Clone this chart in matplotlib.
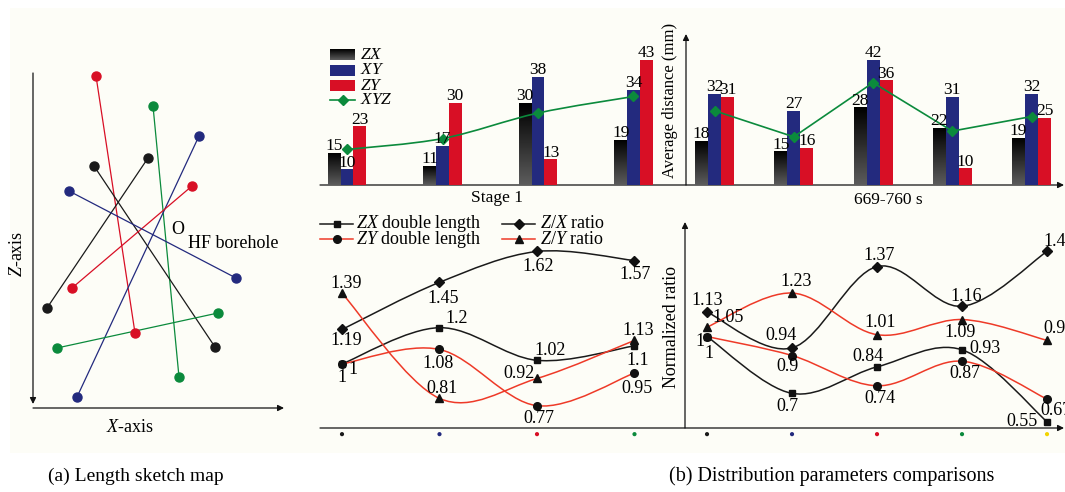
import numpy as np
import matplotlib
matplotlib.use("Agg")
import matplotlib.pyplot as plt
from matplotlib.path import Path
from matplotlib.patches import PathPatch, Rectangle
from matplotlib.colors import LinearSegmentedColormap

plt.rcParams['font.family'] = ['Liberation Serif', 'DejaVu Serif']
plt.rcParams['mathtext.fontset'] = 'custom'
plt.rcParams['mathtext.rm'] = 'Liberation Serif'
plt.rcParams['mathtext.it'] = 'Liberation Serif:italic'

# ---------------- data ----------------
# (a) sketch segments (endpoint coordinates in sketch units)
sketch_x0 = [96, 153, 199, 148, 94, 192, 69, 57]
sketch_z0 = [76, 106, 136, 158, 166, 186, 191, 348]
sketch_x1 = [135, 179, 77, 47, 215, 72, 236, 218]
sketch_z1 = [333, 377, 397, 308, 347, 288, 278, 313]
sketch_colors = ['red', 'green', 'navy', 'black', 'black', 'red', 'navy', 'green']

# (b) top: average distance (mm)
stage1_zx = [15, 11, 30, 19]
stage1_xy = [10, 17, 38, 34]
stage1_zy = [23, 30, 13, 43]
stage1_xyz = [16, 19.3, 27, 32]
late_zx = [18, 15, 28, 22, 19]
late_xy = [32, 27, 42, 31, 32]
late_zy = [31, 16, 36, 10, 25]
late_xyz = [27, 19.3, 35.3, 21, 25.3]

# (b) bottom: normalized ratio
s1_zx_double = [1, 1.2, 1.02, 1.1]
s1_zy_double = [1, 1.08, 0.77, 0.95]
s1_zx_ratio = [1.19, 1.45, 1.62, 1.57]
s1_zy_ratio = [1.39, 0.81, 0.92, 1.13]
late_zx_double = [1, 0.7, 0.84, 0.93, 0.55]
late_zy_double = [1, 0.9, 0.74, 0.87, 0.67]
late_zx_ratio = [1.13, 0.94, 1.37, 1.16, 1.45]
late_zy_ratio = [1.05, 1.23, 1.01, 1.09, 0.98]
dot_colors_s1 = ['black', 'navy', 'red', 'green']
dot_colors_late = ['black', 'navy', 'red', 'green', 'yellow']

# ---------------- styles ----------------
C = {'black': '#1a1a1a', 'navy': '#232a7e', 'red': '#d80f25', 'green': '#0b8a3c',
     'yellow': '#f2d400'}
LRED = '#ee3a28'
W, H = 1065, 492

fig = plt.figure(figsize=(W / 100, H / 100), dpi=100)
fig.patch.set_facecolor('white')

ax_bg = fig.add_axes([0, 0, 1, 1])
ax_bg.axis('off')
ax_bg.add_patch(Rectangle((10, 8), 1055, 445, facecolor='#fdfdf7', edgecolor='none', zorder=0))


def px_axes(x0, y0, x1, y1):
    a = fig.add_axes([x0 / W, 1 - y1 / H, (x1 - x0) / W, (y1 - y0) / H])
    a.patch.set_alpha(0)
    a.axis('off')
    return a


def arrow(p0, p1):
    ax_bg.annotate('', xy=p1, xytext=p0,
                   arrowprops=dict(arrowstyle='-|>', lw=0.9, color='#111111',
                                   mutation_scale=9, shrinkA=0, shrinkB=0))


def smooth_path(xs, ys):
    pts = np.column_stack([xs, ys]).astype(float)
    n = len(pts)
    verts = [pts[0]]
    codes = [Path.MOVETO]
    for i in range(n - 1):
        p0 = pts[i - 1] if i > 0 else pts[i]
        p1 = pts[i]
        p2 = pts[i + 1]
        p3 = pts[i + 2] if i + 2 < n else pts[i + 1]
        verts += [p1 + (p2 - p0) / 6, p2 - (p3 - p1) / 6, p2]
        codes += [Path.CURVE4] * 3
    return Path(verts, codes)


gcmap = LinearSegmentedColormap.from_list('g', ['#5c5c5c', '#000000'])
grad = np.linspace(0, 1, 64).reshape(-1, 1)

# ---------------- (a) sketch ----------------
for x0, z0, x1, z1, c in zip(sketch_x0, sketch_z0, sketch_x1, sketch_z1, sketch_colors):
    ax_bg.plot([x0, x1], [z0, z1], '-', color=C[c], lw=0.9, zorder=2)
    ax_bg.plot([x0, x1], [z0, z1], 'o', color=C[c], ms=6.5, zorder=3)
arrow((33, 73), (33, 404))
arrow((33, 408), (284, 408))
ax_bg.text(18, 254, '$Z$-axis', rotation=90, fontsize=13, ha='center', va='center')
ax_bg.text(130, 428, '$X$-axis', fontsize=13, ha='center', va='center')
ax_bg.text(178, 229, 'O', fontsize=13, ha='center', va='center')
ax_bg.text(233, 243, 'HF borehole', fontsize=13, ha='center', va='center')


# ---------------- (b) top bar charts ----------------
def bar_panel(ax, zx, xy, zy, xyz, w, ylo, yhi, xlim, smooth):
    x = np.arange(len(zx))
    groups = [(x - w, zx, 'black'), (x, xy, 'navy'), (x + w, zy, 'red')]
    for xs, vals, c in groups:
        bars = ax.bar(xs, vals, width=w, bottom=0, color=C[c], zorder=2)
        if c == 'black':
            for b in bars:
                im = ax.imshow(grad, extent=[b.get_x(), b.get_x() + b.get_width(), ylo, b.get_height()],
                               origin='lower', cmap=gcmap, aspect='auto', zorder=2.1)
                im.set_clip_path(b)
        for xi, v in zip(xs, vals):
            ax.annotate(str(v), (xi, v), xytext=(0, 2), textcoords='offset points',
                        ha='center', va='baseline', fontsize=12.5, zorder=5)
    if smooth:
        ax.add_patch(PathPatch(smooth_path(x, xyz), fill=False, edgecolor=C['green'], lw=1.2, zorder=4))
    else:
        ax.plot(x, xyz, '-', color=C['green'], lw=1.2, zorder=4)
    ax.plot(x, xyz, 'D', color=C['green'], ms=5.5, zorder=4.5)
    ax.set_xlim(*xlim)
    ax.set_ylim(ylo, yhi)


ax_t1 = px_axes(320, 35, 686, 185)
bar_panel(ax_t1, stage1_zx, stage1_xy, stage1_zy, stage1_xyz, 0.133, 5.26, 5.26 + 150 / 3.31,
          (-0.283, 3.55), True)
ax_t2 = px_axes(686, 35, 1063, 185)
bar_panel(ax_t2, late_zx, late_xy, late_zy, late_xyz, 0.164, 5.07, 5.07 + 150 / 3.385,
          (-0.36, 4.397), False)

arrow((320, 185), (1064, 185))
arrow((686, 185), (686, 34))
ax_bg.text(497, 198, 'Stage 1', fontsize=12.5, ha='center', va='center')
ax_bg.text(888, 200, '669-760 s', fontsize=12.5, ha='center', va='center')
ax_bg.text(670, 100, 'Average distance (mm)', rotation=90, fontsize=12, ha='center', va='center')

# top legend
leg_rows = [55, 70.5, 85.5, 100]
ax_bg.imshow(grad, extent=[330, 355, leg_rows[0] + 5.5, leg_rows[0] - 5.5], origin='lower',
             cmap=gcmap, aspect='auto', zorder=3)
for yy, c in zip(leg_rows[1:3], ['navy', 'red']):
    ax_bg.add_patch(Rectangle((330, yy - 5.5), 25, 11, facecolor=C[c], edgecolor='none', zorder=3))
ax_bg.plot([330, 355], [leg_rows[3]] * 2, '-', color=C['green'], lw=1.2)
ax_bg.plot([342.5], [leg_rows[3]], 'D', color=C['green'], ms=5.5)
for yy, t in zip(leg_rows, ['$ZX$', '$XY$', '$ZY$', '$XYZ$']):
    ax_bg.text(360, yy, t, fontsize=12.5, ha='left', va='center')

# ---------------- (b) bottom ratio charts ----------------
series_style = [
    ('k', 's', 5),    # ZX double length
    ('r', 'o', 5.5),  # ZY double length
    ('k', 'D', 5),    # Z/X ratio
    ('r', '^', 6),    # Z/Y ratio
]


def ratio_panel(ax, series, offsets, xlim, ylim, dots):
    x = np.arange(len(series[0]))
    for vals, (lc, mk, ms), offs in zip(series, series_style, offsets):
        col = C['black'] if lc == 'k' else LRED
        ax.add_patch(PathPatch(smooth_path(x, vals), fill=False, edgecolor=col, lw=1.1, zorder=3))
        ax.plot(x, vals, mk, color='#111111', ms=ms, zorder=4, clip_on=False)
        for xi, v, (dx, dy) in zip(x, vals, offs):
            ax.annotate(f'{v:g}', (xi, v), xytext=(dx * 0.72, dy * 0.72), textcoords='offset points',
                        ha='center', va='center', fontsize=13, zorder=5, annotation_clip=False)
    ax.set_xlim(*xlim)
    ax.set_ylim(*ylim)
    ax.scatter(x, [-0.03] * len(x), s=9, c=[C[c] for c in dots], transform=ax.get_xaxis_transform(),
               clip_on=False, zorder=5, linewidths=0)


off_s1 = [
    [(0, -14), (17, 9), (13, 10), (3, -15)],
    [(11, -6), (-1, -14), (2, -13), (3, -15)],
    [(4, -11), (4, -16), (1, -15), (1, -14)],
    [(4, 10), (3, 10), (-18, 5), (4, 10)],
]
off_late = [
    [(-7, -5), (-5, -13), (-9, 10), (23, 1), (-25, 0)],
    [(2, -17), (-5, -11), (3, -13), (3, -12), (9, -11)],
    [(0, 11), (-11, 12), (2, 11), (4, 10), (12, 10)],
    [(21, 10), (4, 12), (3, 12), (-2, -13), (12, 12)],
]

ax_b1 = px_axes(320, 223, 685, 428)
ratio_panel(ax_b1, [s1_zx_double, s1_zy_double, s1_zx_ratio, s1_zy_ratio], off_s1,
            (-0.2256, 3.518), (0.647, 1.777), dot_colors_s1)
ax_b2 = px_axes(685, 223, 1063, 428)
ratio_panel(ax_b2, [late_zx_double, late_zy_double, late_zx_ratio, late_zy_ratio], off_late,
            (-0.259, 4.188), (0.517, 1.60), dot_colors_late)

arrow((320, 428), (1064, 428))
arrow((685, 428), (685, 222))
ax_bg.text(672, 327, 'Normalized ratio', rotation=90, fontsize=13, ha='center', va='center')

# bottom legend
bl = [(320, 224, 'k', 's', 5, '$ZX$ double length'),
      (320, 239, 'r', 'o', 5.5, '$ZY$ double length'),
      (502, 224, 'k', 'D', 5, '$Z/X$ ratio'),
      (502, 239, 'r', '^', 6, '$Z/Y$ ratio')]
for x0, yy, lc, mk, ms, t in bl:
    col = C['black'] if lc == 'k' else LRED
    ax_bg.plot([x0, x0 + 33], [yy, yy], '-', color=col, lw=1.1)
    ax_bg.plot([x0 + 16.5], [yy], mk, color='#111111', ms=ms)
    ax_bg.text(x0 + 36 if x0 < 400 else 540, yy, t, fontsize=13, ha='left', va='center')

# captions
ax_bg.text(136, 476, '(a) Length sketch map', fontsize=14, ha='center', va='center')
ax_bg.text(832, 476, '(b) Distribution parameters comparisons', fontsize=14.5, ha='center', va='center')

ax_bg.set_xlim(0, W)
ax_bg.set_ylim(H, 0)

fig.savefig('out.png', dpi=100, facecolor='white')
